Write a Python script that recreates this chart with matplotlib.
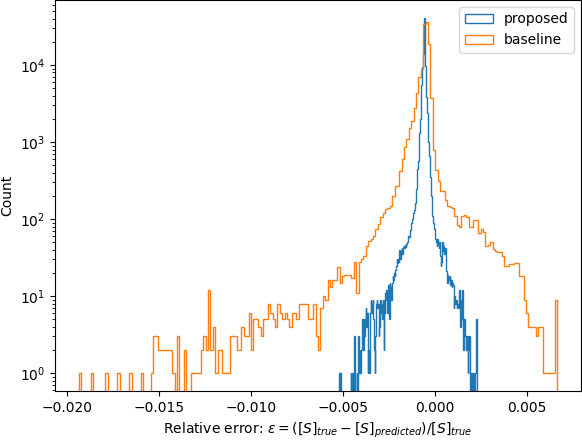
import numpy as np
import matplotlib
matplotlib.use("Agg")
import matplotlib.pyplot as plt

# bin ranges (same number of bins for both, each over its own range)
proposed_range = (-0.00523, 0.00225)
baseline_range = (-0.01936, 0.00663)

# counts per bin, 200 bins each
proposed_counts = [
    1, 0, 1, 0, 0, 0, 0, 0, 0, 0, 0, 0, 0, 0, 0, 0, 0, 1, 0, 1,
    1, 0, 3, 1, 0, 0, 1, 0, 3, 1, 2, 1, 2, 2, 5, 2, 5, 3, 5, 7,
    4, 6, 1, 2, 1, 6, 9, 6, 8, 9, 5, 2, 1, 3, 8, 9, 7, 8, 3, 4,
    9, 6, 8, 5, 9, 2, 6, 11, 9, 12, 6, 12, 14, 5, 15, 13, 9, 15, 18, 16,
    20, 18, 22, 25, 30, 27, 30, 28, 40, 30, 38, 42, 35, 43, 45, 42, 46, 44, 48, 50,
    55, 60, 58, 67, 72, 90, 100, 110, 120, 130, 140, 160, 245, 300, 450, 570, 900, 1300, 2000, 3100,
    5500, 9400, 14000, 19600, 41000, 9800, 6000, 3800, 2400, 1450, 1000, 660, 450, 350, 200, 140, 110, 90, 75, 60,
    55, 50, 45, 55, 48, 42, 50, 33, 25, 28, 50, 38, 45, 35, 42, 22, 21, 15, 19, 17,
    16, 18, 14, 16, 13, 15, 14, 7, 10, 8, 9, 7, 8, 7, 9, 12, 4, 9, 5, 12,
    6, 2, 5, 3, 3, 2, 3, 1, 2, 3, 1, 0, 1, 1, 0, 1, 0, 0, 1, 5,
]
baseline_counts = [
    1, 0, 0, 0, 0, 1, 0, 0, 0, 0, 0, 1, 0, 0, 0, 0, 1, 0, 0, 0,
    0, 1, 0, 0, 0, 0, 1, 0, 0, 0, 1, 3, 3, 2, 2, 2, 2, 2, 2, 1,
    0, 3, 0, 0, 2, 0, 0, 1, 1, 1, 1, 2, 3, 2, 12, 2, 4, 1, 2, 2,
    1, 1, 1, 3, 3, 3, 2, 2, 4, 3, 3, 6, 2, 5, 5, 4, 3, 5, 5, 8,
    6, 5, 4, 8, 6, 5, 6, 5, 4, 6, 6, 5, 8, 8, 8, 8, 5, 5, 8, 3,
    2, 7, 10, 9, 16, 13, 16, 16, 24, 15, 18, 19, 19, 19, 17, 28, 11, 28, 30, 33,
    45, 52, 55, 60, 74, 86, 105, 120, 134, 140, 150, 200, 270, 270, 424, 600, 850, 1100, 1500, 1900,
    2800, 4300, 7000, 9000, 34000, 36000, 19000, 3700, 800, 440, 310, 235, 230, 175, 150, 145, 140, 110, 85, 80,
    110, 112, 105, 80, 80, 98, 98, 67, 75, 68, 45, 46, 50, 41, 39, 37, 37, 33, 25, 25,
    26, 26, 27, 27, 18, 18, 9, 6, 4, 4, 4, 3, 4, 4, 1, 1, 1, 1, 1, 9,
]

labels = ["proposed", "baseline"]

fig = plt.figure(figsize=(5.82, 4.40), dpi=100)
ax = fig.add_axes([55 / 582, 49 / 440, 526 / 582, 391 / 440])

for rng, counts, lab in [(proposed_range, proposed_counts, labels[0]),
                         (baseline_range, baseline_counts, labels[1])]:
    edges = np.linspace(rng[0], rng[1], len(counts) + 1)
    centers = (edges[:-1] + edges[1:]) / 2
    ax.hist(centers, bins=edges, weights=counts, histtype="step", log=True, label=lab)

ax.set_xlabel(r"Relative error: $\varepsilon = ([S]_{true} - [S]_{predicted})/[S]_{true}$")
ax.set_ylabel("Count")
ax.legend(loc="upper right")

fig.savefig("out.png", dpi=100)
